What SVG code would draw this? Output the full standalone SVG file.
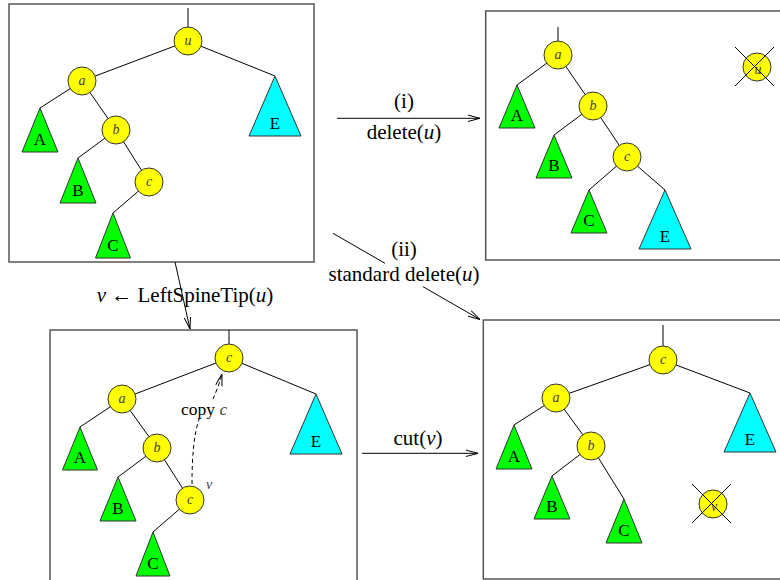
<svg xmlns="http://www.w3.org/2000/svg" width="780" height="580" viewBox="0 0 780 580">
<style>
.box{fill:#fff;stroke:#555;stroke-width:1.5}
.e{stroke:#000;stroke-width:1;fill:none}
.n{fill:#ff0;stroke:#333;stroke-width:1}
.g{fill:#0f0;stroke:#333;stroke-width:1}
.cy{fill:#0ff;stroke:#333;stroke-width:1}
.nl{font-family:"Liberation Serif",serif;font-style:italic;font-size:14px;fill:#444;text-anchor:middle}
.tl{font-family:"Liberation Serif",serif;font-size:17px;fill:#000;text-anchor:middle}
.lb{font-family:"Liberation Serif",serif;font-size:21px;fill:#000;text-anchor:middle}
.it{font-style:italic}
.x{stroke:#000;stroke-width:1}
</style>
<defs>
<marker id="ah" viewBox="0 0 12 8" refX="12" refY="4" markerWidth="12" markerHeight="8" markerUnits="userSpaceOnUse" orient="auto"><path d="M0,0.8 L12,4 L0,7.2" fill="none" stroke="#000" stroke-width="1"/></marker>
</defs>
<rect width="780" height="580" fill="#fff"/>

<g id="panel1">
<rect class="box" x="9" y="4" width="305" height="258"/>
<g class="e">
<line x1="188" y1="8" x2="188" y2="27"/>
<line x1="188" y1="41" x2="82" y2="81"/>
<line x1="188" y1="41" x2="275" y2="76"/>
<line x1="82" y1="81" x2="40" y2="108"/>
<line x1="82" y1="81" x2="116" y2="130"/>
<line x1="116" y1="130" x2="78" y2="158"/>
<line x1="116" y1="130" x2="149" y2="182"/>
<line x1="149" y1="182" x2="113" y2="213"/>
</g>
<g id="p1-u"><circle class="n" cx="188" cy="41" r="14"/><text class="nl" x="188" y="45">u</text></g>
<g id="p1-a"><circle class="n" cx="82" cy="81" r="14"/><text class="nl" x="82" y="85">a</text></g>
<g id="p1-b"><circle class="n" cx="116" cy="130" r="14"/><text class="nl" x="116" y="134">b</text></g>
<g id="p1-c"><circle class="n" cx="149" cy="182" r="14"/><text class="nl" x="149" y="186">c</text></g>
<g id="p1-A"><polygon class="g" points="40,108 22,152 58,152"/><text class="tl" x="40" y="144.5">A</text></g>
<g id="p1-B"><polygon class="g" points="78,158 60,203 96,203"/><text class="tl" x="78" y="195.5">B</text></g>
<g id="p1-C"><polygon class="g" points="113,213 95.5,258 130.5,258"/><text class="tl" x="113" y="250.5">C</text></g>
<g id="p1-E"><polygon class="cy" points="275,76 249,136 301,136"/><text class="tl" x="275" y="128.5">E</text></g>
</g>

<g id="panel2">
<rect class="box" x="485.7" y="11" width="310" height="249"/>
<g class="e">
<line x1="558" y1="27" x2="558" y2="41"/>
<line x1="558" y1="55" x2="517" y2="85"/>
<line x1="558" y1="55" x2="593" y2="106"/>
<line x1="593" y1="106" x2="554" y2="135"/>
<line x1="593" y1="106" x2="627" y2="157"/>
<line x1="627" y1="157" x2="589" y2="190"/>
<line x1="627" y1="157" x2="665" y2="190"/>
</g>
<g id="p2-a"><circle class="n" cx="558" cy="55" r="14"/><text class="nl" x="558" y="59">a</text></g>
<g id="p2-b"><circle class="n" cx="593" cy="106" r="14"/><text class="nl" x="593" y="110">b</text></g>
<g id="p2-c"><circle class="n" cx="627" cy="157" r="14"/><text class="nl" x="627" y="161">c</text></g>
<g id="p2-A"><polygon class="g" points="517,85 499,128 535,128"/><text class="tl" x="517" y="120.5">A</text></g>
<g id="p2-B"><polygon class="g" points="554,135 536,178 572,178"/><text class="tl" x="554" y="170.5">B</text></g>
<g id="p2-C"><polygon class="g" points="589,190 571,233 607,233"/><text class="tl" x="589" y="225.5">C</text></g>
<g id="p2-E"><polygon class="cy" points="665,190 639,249 691,249"/><text class="tl" x="665" y="241.5">E</text></g>
<g id="p2-u"><circle class="n" cx="757" cy="67" r="14"/><text class="nl" x="758" y="74">u</text>
<line class="x" x1="735" y1="47" x2="774" y2="86"/><line class="x" x1="774" y1="47" x2="735" y2="86"/></g>
</g>

<g id="panel3">
<rect class="box" x="50" y="330" width="307" height="260"/>
<g class="e">
<line x1="229" y1="330" x2="229" y2="344"/>
<line x1="229" y1="358" x2="122" y2="399"/>
<line x1="229" y1="358" x2="316" y2="394"/>
<line x1="122" y1="399" x2="80" y2="427"/>
<line x1="122" y1="399" x2="157" y2="448"/>
<line x1="157" y1="448" x2="118" y2="477"/>
<line x1="157" y1="448" x2="190" y2="500"/>
<line x1="190" y1="500" x2="153" y2="532"/>
</g>
<g id="p3-c"><circle class="n" cx="229" cy="358" r="14"/><text class="nl" x="229" y="362">c</text></g>
<g id="p3-a"><circle class="n" cx="122" cy="399" r="14"/><text class="nl" x="122" y="403">a</text></g>
<g id="p3-b"><circle class="n" cx="157" cy="448" r="14"/><text class="nl" x="157" y="452">b</text></g>
<g id="p3-v"><circle class="n" cx="190" cy="500" r="14"/><text class="nl" x="190" y="504">c</text><text class="nl" x="209" y="489">v</text></g>
<g id="p3-A"><polygon class="g" points="80,427 62.5,470 97.5,470"/><text class="tl" x="80" y="462.5">A</text></g>
<g id="p3-B"><polygon class="g" points="118,477 100,521 136,521"/><text class="tl" x="118" y="513.5">B</text></g>
<g id="p3-C"><polygon class="g" points="153,532 136,576 170,576"/><text class="tl" x="153" y="568.5">C</text></g>
<g id="p3-E"><polygon class="cy" points="316,394 290,454 342,454"/><text class="tl" x="316" y="446.5">E</text></g>
<g id="p3-copy">
<path class="e" stroke-dasharray="4,3" d="M192,484 C192,455 194,435 199,419"/>
<path class="e" stroke-dasharray="4,3" d="M213,399 C216,392 219,385 222,374" marker-end="url(#ah)"/>
<text font-family="Liberation Serif, serif" font-size="17.5" x="181" y="415">copy <tspan font-style="italic" fill="#444">c</tspan></text>
</g>
</g>

<g id="panel4">
<rect class="box" x="483.3" y="320" width="312" height="259"/>
<g class="e">
<line x1="663" y1="325" x2="663" y2="346"/>
<line x1="663" y1="360" x2="556" y2="398"/>
<line x1="663" y1="360" x2="750" y2="393"/>
<line x1="556" y1="398" x2="514" y2="425"/>
<line x1="556" y1="398" x2="591" y2="446"/>
<line x1="591" y1="446" x2="552" y2="476"/>
<line x1="591" y1="446" x2="624" y2="499"/>
</g>
<g id="p4-c"><circle class="n" cx="663" cy="360" r="14"/><text class="nl" x="663" y="364">c</text></g>
<g id="p4-a"><circle class="n" cx="556" cy="398" r="14"/><text class="nl" x="556" y="402">a</text></g>
<g id="p4-b"><circle class="n" cx="591" cy="446" r="14"/><text class="nl" x="591" y="450">b</text></g>
<g id="p4-A"><polygon class="g" points="514,425 496,469 532,469"/><text class="tl" x="514" y="461.5">A</text></g>
<g id="p4-B"><polygon class="g" points="552,476 534,519 570,519"/><text class="tl" x="552" y="511.5">B</text></g>
<g id="p4-C"><polygon class="g" points="624,499 606,543 642,543"/><text class="tl" x="624" y="535.5">C</text></g>
<g id="p4-E"><polygon class="cy" points="750,393 724,452 776,452"/><text class="tl" x="750" y="444.5">E</text></g>
<g id="p4-v"><circle class="n" cx="713" cy="504" r="14"/><text class="nl" x="714" y="511">v</text>
<line class="x" x1="692" y1="484" x2="731" y2="523"/><line class="x" x1="731" y1="484" x2="692" y2="523"/></g>
</g>

<g id="connectors">
<line class="e" x1="337" y1="118.3" x2="480" y2="118.3" marker-end="url(#ah)"/>
<line class="e" x1="333" y1="233.3" x2="385" y2="263.3"/>
<line class="e" x1="423" y1="286.7" x2="480" y2="319.5" marker-end="url(#ah)"/>
<line class="e" x1="175" y1="262" x2="190" y2="329" marker-end="url(#ah)"/>
<line class="e" x1="362" y1="453.3" x2="478" y2="453.3" marker-end="url(#ah)"/>
</g>

<g id="labels">
<text class="lb" x="404" y="108">(i)</text>
<text class="lb" x="404" y="139">delete(<tspan class="it">u</tspan>)</text>
<text class="lb" x="404" y="256">(ii)</text>
<text class="lb" x="404" y="281">standard delete(<tspan class="it">u</tspan>)</text>
<text class="lb" x="185" y="302"><tspan class="it">v</tspan> ← LeftSpineTip(<tspan class="it">u</tspan>)</text>
<text class="lb" x="418" y="445">cut(<tspan class="it">v</tspan>)</text>
</g>
</svg>
